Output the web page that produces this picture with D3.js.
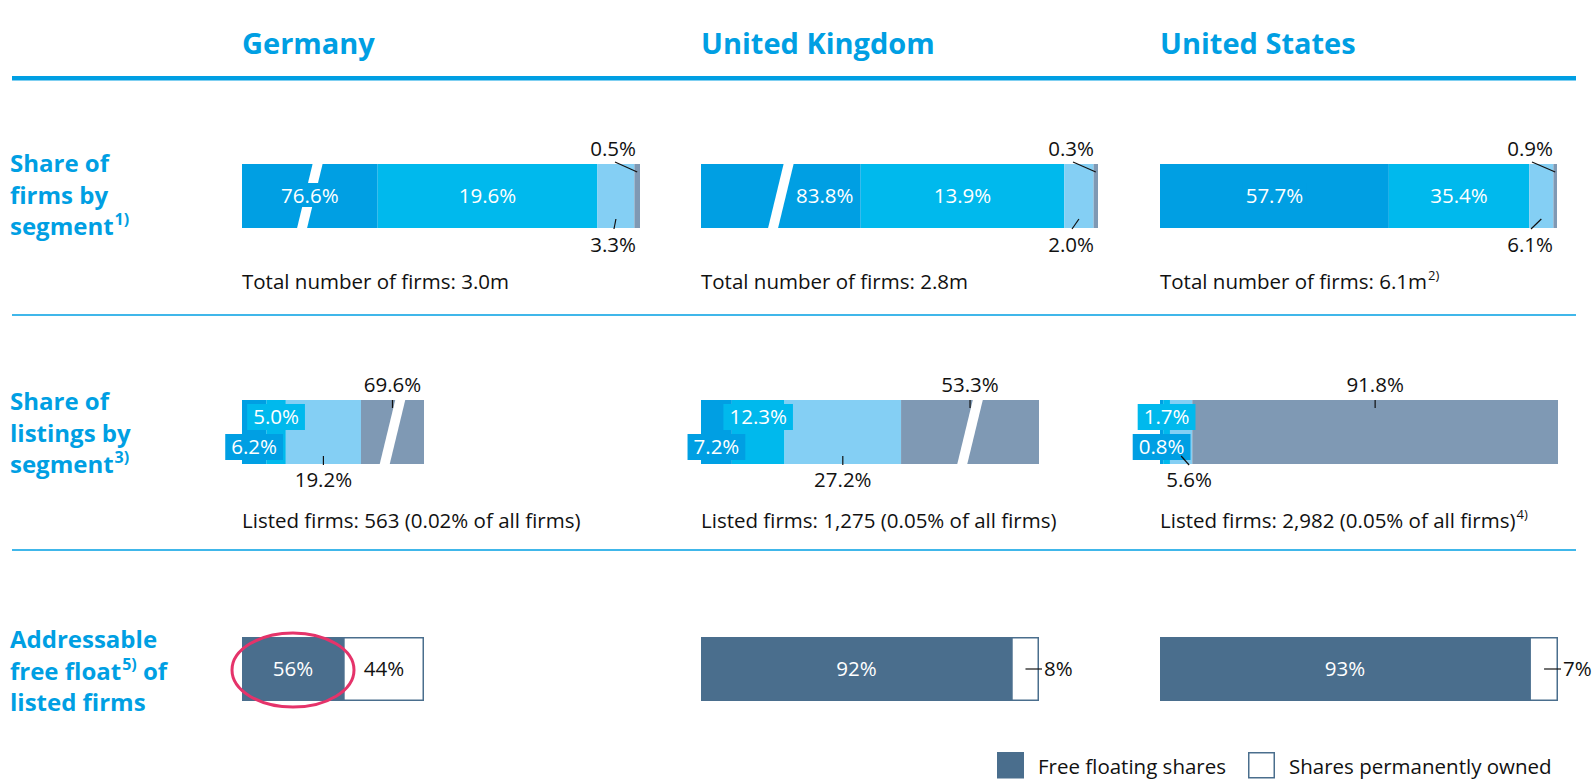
<!DOCTYPE html>
<html>
<head>
<meta charset="utf-8">
<script src="https://cdn.jsdelivr.net/npm/d3@7"></script>
<style>
  body { margin: 0; background: #fff; }
  text { font-family: "Open Sans", "Noto Sans", sans-serif; }
</style>
</head>
<body>
<div class="chart"></div>
<script>
// data
const countries = ["Germany", "United Kingdom", "United States"];
const segments = ["Segment 1", "Segment 2", "Segment 3", "Segment 4"];
const firmShares = [[76.6, 19.6, 3.3, 0.5], [83.8, 13.9, 2.0, 0.3], [57.7, 35.4, 6.1, 0.9]];
const listingShares = [[6.2, 5.0, 19.2, 69.6], [7.2, 12.3, 27.2, 53.3], [0.8, 1.7, 5.6, 91.8]];
const freeFloat = [56, 92, 93];
const ownedShares = [44, 8, 7];
const firmTotals = ["3.0m", "2.8m", "6.1m"];
const firmTotalNotes = ["", "", "2)"];
const listedFirms = ["563 (0.02% of all firms)", "1,275 (0.05% of all firms)", "2,982 (0.05% of all firms)"];
const listedNotes = ["", "", "4)"];
const rowTitles = [
  ["Share of", "firms by", "segment{1)}"],
  ["Share of", "listings by", "segment{3)}"],
  ["Addressable", "free float{5)} of", "listed firms"],
];
const legendLabels = ["Free floating shares", "Shares permanently owned"];

// axis breaks: which segment is cut and how many % units it is drawn as
const firmBreaks = [{ seg: 0, shown: 12.1 }, { seg: 0, shown: 10.9 }, null];
const listingBreaks = [{ seg: 3, shown: 16.1 }, { seg: 3, shown: 32.2 }, null];

// layout
const W = 1594, H = 779;
const colX = [242, 701, 1160];
const firmW = [398, 397, 397];
const listW = [182, 338, 398];
const rowY = [164, 400, 637];
const barH = 64;
const firmLabelPos = [0.5, 0.775, 0.5]; // where the first label sits inside a cut segment
const belowDx = [0, 0, 8];
const fs = 20.5;

const blue = "#009fe3";
const segColor = d3.scaleOrdinal().domain(segments).range(["#009fe3", "#00b9ed", "#84cff4", "#7f99b4"]);
const floatColor = "#4a6e8d";
const pct1 = (v) => d3.format(".1f")(v) + "%";

let svg = d3.select(".chart").append("svg").attr("width", W).attr("height", H);

// headers and rules
svg.selectAll(".head").data(countries).enter().append("text")
  .attr("x", (d, i) => colX[i]).attr("y", 54)
  .attr("font-size", 29).attr("font-weight", 700).attr("fill", blue)
  .text((d) => d);

svg.append("rect").attr("x", 12).attr("y", 76).attr("width", 1564).attr("height", 4.5).attr("fill", blue);
[315, 550].forEach((y) => {
  svg.append("line").attr("x1", 12).attr("x2", 1576).attr("y1", y).attr("y2", y)
    .attr("stroke", blue).attr("stroke-width", 1.5);
});

// row titles, "{..}" is a superscript
const titleBase = [172, 410, 648];
rowTitles.forEach((lines, r) => {
  lines.forEach((line, k) => {
    let t = svg.append("text").attr("x", 10).attr("y", titleBase[r] + k * 31.5)
      .attr("font-size", 24).attr("font-weight", 700).attr("fill", blue);
    let raised = false;
    line.split(/(\{[^}]*\})/).filter((s) => s.length).forEach((part) => {
      if (part[0] === "{") {
        t.append("tspan").attr("font-size", 16).attr("dx", 1).attr("dy", -10).text(part.slice(1, -1));
        raised = true;
      } else {
        t.append("tspan").attr("dy", raised ? 10 : 0).text(part);
        raised = false;
      }
    });
  });
});

function stack(values, brk, x0, w) {
  let shown = values.map((v, i) => (brk && brk.seg === i ? brk.shown : v));
  let x = d3.scaleLinear().domain([0, d3.sum(shown)]).range([x0, x0 + w]);
  let acc = 0;
  return shown.map((s, i) => {
    let a = x(acc);
    acc += s;
    return { i, v: values[i], x0: a, x1: x(acc), cut: !!(brk && brk.seg === i) };
  });
}

function drawBar(g, segs, y) {
  g.selectAll("rect.seg").data(segs).enter().append("rect").attr("class", "seg")
    .attr("x", (d) => d.x0).attr("y", y)
    .attr("width", (d) => d.x1 - d.x0).attr("height", barH)
    .attr("fill", (d) => segColor(segments[d.i]));
  // slanted white gap on the cut segment
  segs.filter((d) => d.cut).forEach((d) => {
    let cx = (d.x0 + d.x1) / 2;
    g.append("polygon")
      .attr("points", [[cx - 13, y + barH + 1], [cx - 3, y + barH + 1], [cx + 13, y - 1], [cx + 3, y - 1]].join(" "))
      .attr("fill", "#fff");
  });
}

function leader(g, x1, y1, x2, y2) {
  g.append("line").attr("x1", x1).attr("y1", y1).attr("x2", x2).attr("y2", y2)
    .attr("stroke", "#111").attr("stroke-width", 1.2);
}

function label(g, x, y, txt, anchor, fill) {
  return g.append("text").attr("x", x).attr("y", y).attr("text-anchor", anchor || "middle")
    .attr("font-size", fs).attr("fill", fill || "#111").text(txt);
}

// label on a coloured patch so a break behind it stays hidden
function patchLabel(g, x, y, txt, color) {
  let bg = g.append("rect").attr("fill", color);
  let t = label(g, x, y, txt, "middle", "#fff");
  let b = t.node().getBBox();
  bg.attr("x", b.x - 3).attr("y", b.y + 2).attr("width", b.width + 6).attr("height", b.height - 4);
  return t;
}

// row 1: share of firms by segment
countries.forEach((c, ci) => {
  let g = svg.append("g");
  let y = rowY[0];
  let segs = stack(firmShares[ci], firmBreaks[ci], colX[ci], firmW[ci]);
  drawBar(g, segs, y);
  let end = colX[ci] + firmW[ci];
  let s0 = segs[0], s1 = segs[1], s2 = segs[2], s3 = segs[3];
  patchLabel(g, s0.x0 + (s0.x1 - s0.x0) * firmLabelPos[ci], y + 39, pct1(s0.v), segColor(segments[0]));
  label(g, (s1.x0 + s1.x1) / 2, y + 39, pct1(s1.v), "middle", "#fff");
  label(g, end - 4, y - 8, pct1(s3.v), "end");
  leader(g, end - 25, y - 2, (s3.x0 + s3.x1) / 2, y + 8);
  label(g, end - 4, y + barH + 24, pct1(s2.v), "end");
  leader(g, (s2.x0 + s2.x1) / 2, y + barH - 9, end - 26, y + barH + 1);

  let t = g.append("text").attr("x", colX[ci]).attr("y", 289).attr("font-size", fs).attr("fill", "#111")
    .text("Total number of firms: " + firmTotals[ci]);
  if (firmTotalNotes[ci]) t.append("tspan").attr("font-size", 13).attr("dx", 1).attr("dy", -9).text(firmTotalNotes[ci]);
});

// row 2: share of listings by segment
countries.forEach((c, ci) => {
  let g = svg.append("g");
  let y = rowY[1];
  let segs = stack(listingShares[ci], listingBreaks[ci], colX[ci], listW[ci]);
  drawBar(g, segs, y);
  let s2 = segs[2], s3 = segs[3];

  // boxed labels for the two smallest segments
  [[segs[1], y + 4], [segs[0], y + 34]].forEach(([s, by]) => {
    let cx = (s.x0 + s.x1) / 2;
    let bg = g.append("rect").attr("y", by).attr("height", 26).attr("fill", segColor(segments[s.i]));
    let t = label(g, cx, by + 20, pct1(s.v), "middle", "#fff");
    let bw = t.node().getComputedTextLength() + 12;
    bg.attr("x", cx - bw / 2).attr("width", bw);
  });

  let c3 = (s3.x0 + s3.x1) / 2;
  label(g, c3, y - 8, pct1(s3.v));
  leader(g, c3, y, c3, y + 8);
  let c2 = (s2.x0 + s2.x1) / 2;
  label(g, c2 + belowDx[ci], y + barH + 23, pct1(s2.v));
  leader(g, c2, y + barH - 8, c2 + belowDx[ci], y + barH + 1);

  let t = g.append("text").attr("x", colX[ci]).attr("y", 528).attr("font-size", fs).attr("fill", "#111")
    .text("Listed firms: " + listedFirms[ci]);
  if (listedNotes[ci]) t.append("tspan").attr("font-size", 13).attr("dx", 1).attr("dy", -9).text(listedNotes[ci]);
});

// row 3: addressable free float
countries.forEach((c, ci) => {
  let g = svg.append("g");
  let y = rowY[2];
  let x = d3.scaleLinear().domain([0, 100]).range([colX[ci], colX[ci] + listW[ci]]);
  let xf = x(freeFloat[ci]);
  g.append("rect").attr("x", xf).attr("y", y + 0.75).attr("width", x(100) - xf - 0.75).attr("height", barH - 1.5)
    .attr("fill", "#fff").attr("stroke", floatColor).attr("stroke-width", 1.5);
  g.append("rect").attr("x", x(0)).attr("y", y).attr("width", xf - x(0)).attr("height", barH).attr("fill", floatColor);
  label(g, (x(0) + xf) / 2, y + 39, freeFloat[ci] + "%", "middle", "#fff");
  let cw = (xf + x(100)) / 2;
  if (x(100) - xf > 50) {
    label(g, cw, y + 39, ownedShares[ci] + "%");
  } else {
    leader(g, cw, y + barH / 2, x(100) + 3, y + barH / 2);
    label(g, x(100) + 5, y + 39, ownedShares[ci] + "%", "start");
  }
});

// highlight around Germany's free float
svg.append("ellipse").attr("cx", 293).attr("cy", 670).attr("rx", 61).attr("ry", 37)
  .attr("fill", "none").attr("stroke", "#e5336a").attr("stroke-width", 3);

// legend
const legX = [997, 1248];
legendLabels.forEach((d, i) => {
  svg.append("rect").attr("x", legX[i] + 0.75).attr("y", 752.75).attr("width", 25.5).attr("height", 25)
    .attr("fill", i === 0 ? floatColor : "#fff").attr("stroke", floatColor).attr("stroke-width", 1.5);
  svg.append("text").attr("x", legX[i] + 41).attr("y", 774).attr("font-size", fs).attr("fill", "#111").text(d);
});
</script>
</body>
</html>
